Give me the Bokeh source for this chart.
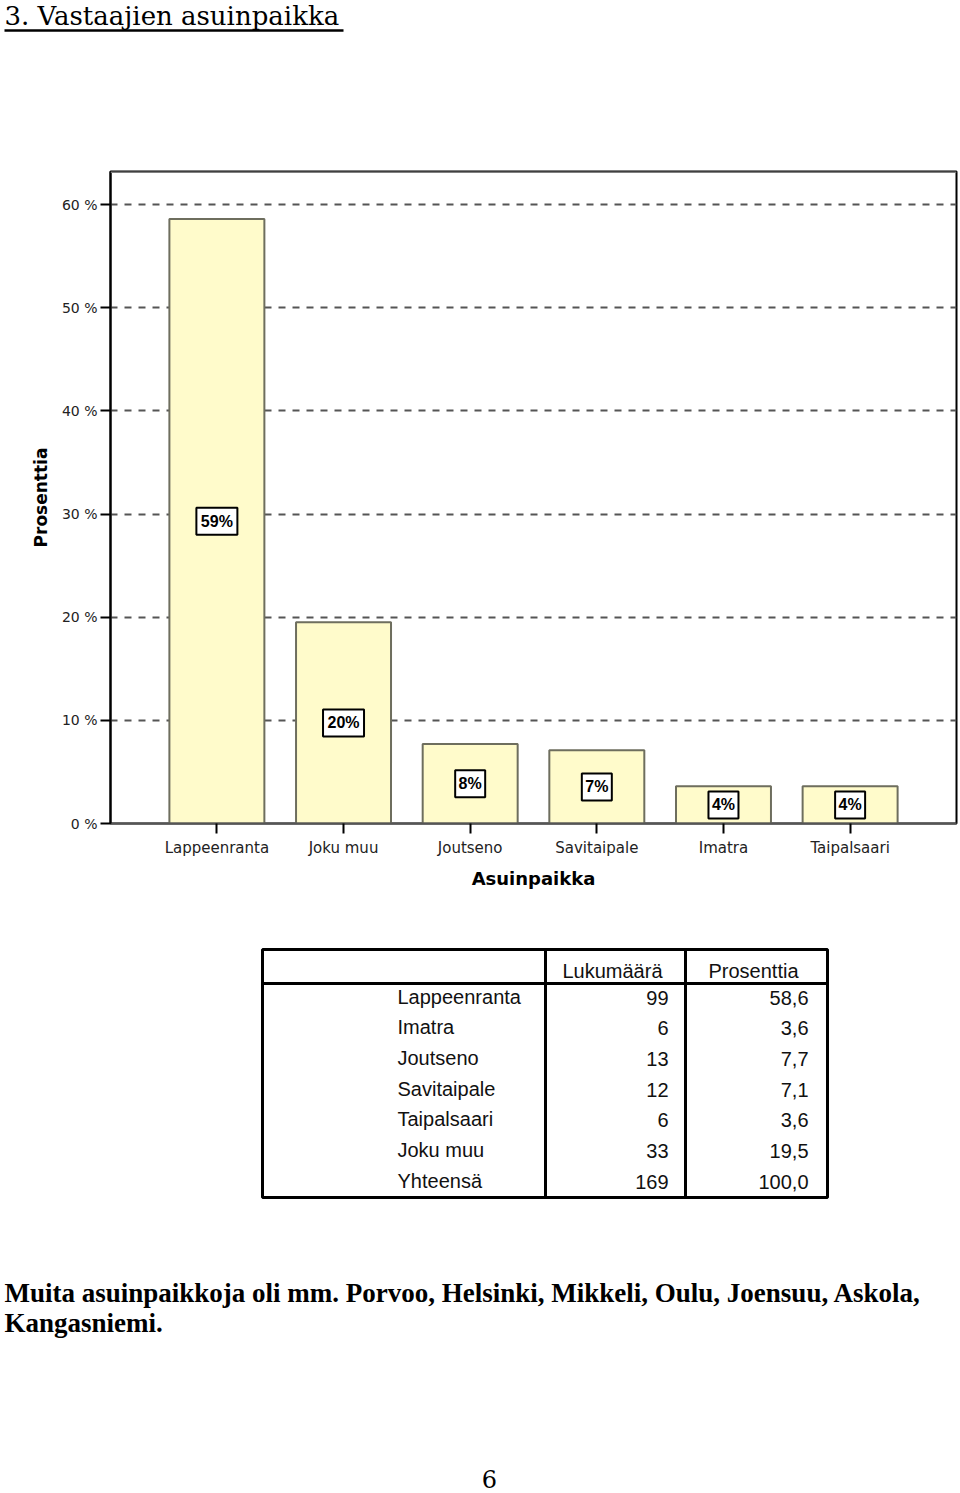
from bokeh.plotting import figure
from bokeh.models import ColumnDataSource, FactorRange, Range1d, Span
from bokeh.layouts import column
from bokeh.embed import file_html
from bokeh.resources import INLINE
from bokeh.core.properties import value

# ---------------- data ----------------
title_text = "3. Vastaajien asuinpaikka"

chart_categories = ["Lappeenranta", "Joku muu", "Joutseno", "Savitaipale", "Imatra", "Taipalsaari"]
chart_percent = [58.6, 19.5, 7.7, 7.1, 3.6, 3.6]
y_ticks = [0, 10, 20, 30, 40, 50, 60]
x_axis_title = "Asuinpaikka"
y_axis_title = "Prosenttia"

table_header = ["Lukumäärä", "Prosenttia"]
table_places = ["Lappeenranta", "Imatra", "Joutseno", "Savitaipale", "Taipalsaari", "Joku muu", "Yhteensä"]
table_counts = [99, 6, 13, 12, 6, 33, 169]
table_percent = [58.6, 3.6, 7.7, 7.1, 3.6, 19.5, 100.0]

note_lines = ["Muita asuinpaikkoja oli mm. Porvoo, Helsinki, Mikkeli, Oulu, Joensuu, Askola,",
              "Kangasniemi."]
page_number = "6"

W = 960


def page_fig(h, y0):
    f = figure(width=W, height=h, x_range=Range1d(0, W), y_range=Range1d(y0 + h, y0),
               x_axis_location=None, y_axis_location=None, min_border=0,
               toolbar_location=None, output_backend="svg")
    f.grid.visible = False
    f.outline_line_color = None
    f.frame_align = False
    return f


# ---------------- title ----------------
f1 = page_fig(40, 0)
f1.text(x=[4], y=[15], text=[title_text], text_font=value("DejaVu Serif"),
        text_font_size="26px", text_baseline="middle", text_color="black")
f1.segment(x0=[4], y0=[30], x1=[343], y1=[30], line_width=2.5, line_color="black")

# ---------------- chart ----------------
labels = [f"{int(v + 0.5)}%" for v in chart_percent]
src = ColumnDataSource(dict(
    cat=chart_categories,
    pct=chart_percent,
    mid=[v / 2 for v in chart_percent],
    lbl=labels,
    boxw=[11 * len(t) + 8 for t in labels],
))

y_top = 63.2
p = figure(width=W, height=865,
           x_range=FactorRange(factors=chart_categories, range_padding=0.34,
                               range_padding_units="absolute"),
           y_range=Range1d(0, y_top),
           min_border_left=110, min_border_right=4, min_border_top=131, min_border_bottom=82,
           toolbar_location=None, output_backend="svg")
p.frame_align = False
p.background_fill_color = "white"
p.outline_line_color = "black"
p.outline_line_width = 2

p.xgrid.visible = False
p.yaxis.ticker = y_ticks
p.ygrid.grid_line_color = "#555555"
p.ygrid.grid_line_width = 2
p.ygrid.grid_line_dash = "7 7"

p.vbar(x="cat", top="pct", bottom=0, width=0.75, source=src,
       fill_color="#FFFBCB", line_color="#6E6E5E", line_width=2)
p.rect(x="cat", y="mid", width="boxw", height=27, width_units="screen", height_units="screen",
       source=src, fill_color="white", line_color="black", line_width=2)
p.text(x="cat", y="mid", text="lbl", source=src, text_align="center", text_baseline="middle",
       text_font=value("Liberation Sans"), text_font_style="bold", text_font_size="16px",
       text_color="black")

p.add_layout(Span(location=y_top, dimension="width", line_color="#808080", line_width=3))

p.yaxis.major_label_overrides = {t: f"{t} %" for t in y_ticks}
for ax in (p.xaxis, p.yaxis):
    ax.major_tick_out = 10
    ax.major_tick_in = 0
    ax.minor_tick_line_color = None
    ax.major_tick_line_width = 2
    ax.major_tick_line_color = "black"
    ax.axis_line_width = 2
    ax.major_label_text_font = "DejaVu Sans"
    ax.major_label_text_color = "#222222"
    ax.axis_label_text_font = "DejaVu Sans"
    ax.axis_label_text_font_style = "bold"
    ax.axis_label_text_color = "black"
p.yaxis.major_label_text_font_size = "14px"
p.xaxis.major_label_text_font_size = "15px"
p.yaxis.axis_line_color = "black"
p.xaxis.axis_line_color = "#555555"
p.yaxis.major_label_standoff = 3
p.xaxis.major_label_standoff = 5
p.yaxis.axis_label = y_axis_title
p.xaxis.axis_label = x_axis_title
p.yaxis.axis_label_text_font_size = "17px"
p.xaxis.axis_label_text_font_size = "18px"
p.yaxis.axis_label_standoff = 8
p.xaxis.axis_label_standoff = 8

# ---------------- table, note, page number ----------------
f3 = page_fig(588, 905)

t_left, t_right, t_top, t_bottom = 262, 827, 949, 1197
col1, col2, head_line = 545, 685, 983
f3.quad(left=[t_left], right=[t_right], top=[t_top], bottom=[t_bottom],
        fill_color=None, line_color="black", line_width=3)
f3.segment(x0=[col1, col2, t_left], y0=[t_top, t_top, head_line],
           x1=[col1, col2, t_right], y1=[t_bottom, t_bottom, head_line],
           line_color="black", line_width=3)

tfont = value("Liberation Sans")
tcol = "#111111"
f3.text(x=[612, 753], y=[970, 970], text=table_header, text_align="center",
        text_baseline="middle", text_font=tfont, text_font_size="20px", text_color=tcol)
row_y = [996 + 30.67 * i for i in range(len(table_places))]
f3.text(x=[397] * len(row_y), y=row_y, text=table_places, text_align="left",
        text_baseline="middle", text_font=tfont, text_font_size="20px", text_color=tcol)
f3.text(x=[668] * len(row_y), y=[y + 1 for y in row_y], text=[str(c) for c in table_counts],
        text_align="right", text_baseline="middle", text_font=tfont,
        text_font_size="20px", text_color=tcol)
f3.text(x=[808] * len(row_y), y=[y + 1 for y in row_y],
        text=[f"{v:.1f}".replace(".", ",") for v in table_percent],
        text_align="right", text_baseline="middle", text_font=tfont,
        text_font_size="20px", text_color=tcol)

f3.text(x=[4, 4], y=[1292, 1322], text=note_lines, text_align="left",
        text_baseline="middle", text_font=value("Liberation Serif"),
        text_font_style="bold", text_font_size="27px", text_color="black")
f3.text(x=[489], y=[1478], text=[page_number], text_align="center",
        text_baseline="middle", text_font=value("DejaVu Serif"),
        text_font_size="24px", text_color="black")

layout = column(f1, p, f3, spacing=0)
open("out.html", "w").write(file_html(layout, INLINE))
